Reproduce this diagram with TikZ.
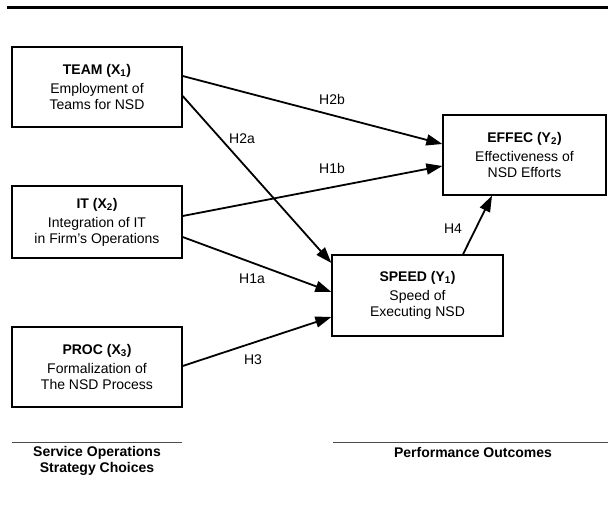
\documentclass[tikz,border=0pt]{standalone}
\usepackage{fontspec}
\setmainfont{Liberation Sans}
\usetikzlibrary{arrows.meta}
\tikzset{
    every node/.append style={font=\fontsize{14}{16}\selectfont}}

\begin{document}
\begin{tikzpicture}
  [x=1pt,y=-1pt,
   box/.style={draw,line width=1.3pt,rectangle,align=center,inner sep=0pt},
   hyp/.style={->,line width=1.8pt,>={Triangle[length=16pt,width=11pt]}},
   lbl/.style={inner sep=1pt},
   foot/.style={align=center,font=\fontsize{14}{16}\selectfont\bfseries}]
  \useasboundingbox (0,0) rectangle (608,510);
  \draw [line width=3pt] (7,8) -- (608,8);

  \node [box,minimum width=170pt,minimum height=80pt] (team) at (97,87)
    {\textbf{TEAM (X\textsubscript{1})}\\[3pt]Employment of\\Teams for NSD};
  \node [box,minimum width=170pt,minimum height=72pt] (it) at (97,222)
    {\textbf{IT (X\textsubscript{2})}\\[3pt]Integration of IT\\in Firm's Operations};
  \node [box,minimum width=170pt,minimum height=80pt] (proc) at (97,367)
    {\textbf{PROC (X\textsubscript{3})}\\[3pt]Formalization of\\The NSD Process};
  \node [box,minimum width=163pt,minimum height=80pt] (effec) at (524.5,155)
    {\textbf{EFFEC (Y\textsubscript{2})}\\[3pt]Effectiveness of\\NSD Efforts};
  \node [box,minimum width=171pt,minimum height=81pt] (speed) at (417.5,295.5)
    {\textbf{SPEED (Y\textsubscript{1})}\\[3pt]Speed of\\Executing NSD};

  \draw [hyp] ([yshift=11pt]team.east) -- ([yshift=11pt]effec.west);
  \draw [hyp] ([yshift=-9pt]team.east) -- ([yshift=32.5pt]speed.west);
  \draw [hyp] ([yshift=6pt]it.east) -- ([yshift=-11pt]effec.west);
  \draw [hyp] ([yshift=-15pt]it.east) -- ([yshift=3.5pt]speed.west);
  \draw [hyp] ([yshift=1pt]proc.east) -- ([yshift=-21.5pt]speed.west);
  \draw [hyp] ([xshift=45.5pt]speed.north) -- ([xshift=-32.5pt]effec.south);

  \node [lbl] (h2b) at (332,99) {H2b};
  \node [lbl] (h2a) at (242,139) {H2a};
  \node [lbl] (h1b) at (332,168) {H1b};
  \node [lbl] (h1a) at (252,279) {H1a};
  \node [lbl] (h3) at (253,360) {H3};
  \node [lbl] (h4) at (453,229) {H4};

  \draw [line width=0.8pt,black!70] (12,442) -- (182,442);
  \draw [line width=0.8pt,black!70] (333,442) -- (608,442);
  \node [foot] (soc) at (97,461) {Service Operations\\Strategy Choices};
  \node [foot] (po) at (473,452) {Performance Outcomes};
\end{tikzpicture}
\end{document}
